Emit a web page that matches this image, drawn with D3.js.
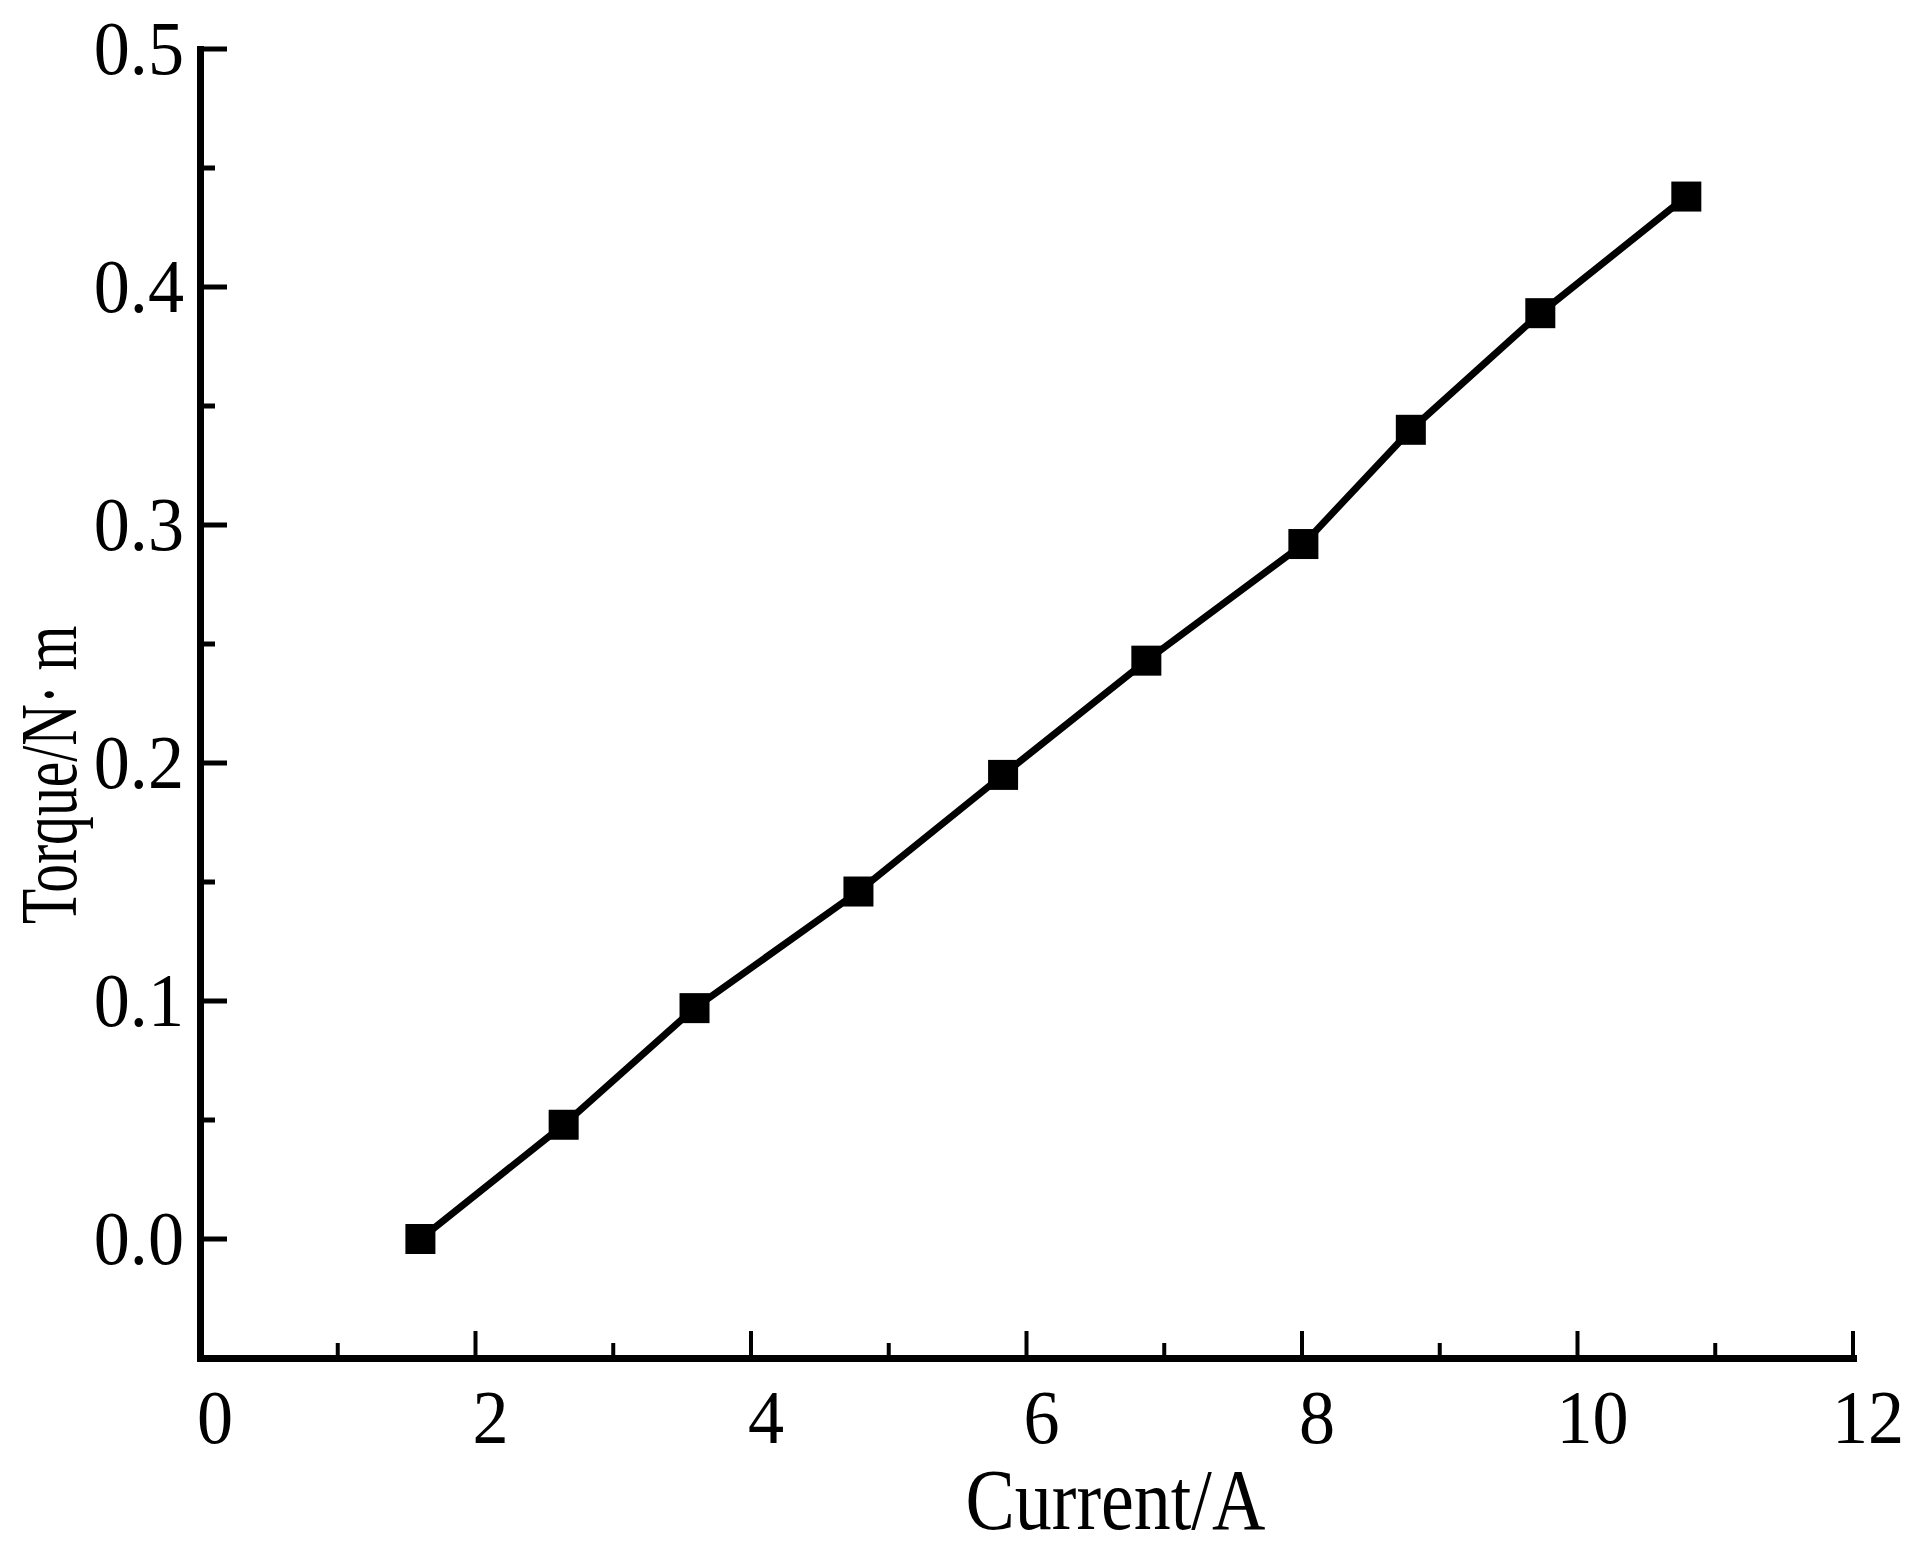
<!DOCTYPE html>
<html><head><meta charset="utf-8">
<script src="https://cdn.jsdelivr.net/npm/d3@7"></script>
<style>body{margin:0;background:#fff}</style>
</head><body>
<script>
var current = [1.6, 2.64, 3.59, 4.78, 5.83, 6.87, 8.01, 8.79, 9.73, 10.79]
var torque = [0.0, 0.048, 0.097, 0.146, 0.195, 0.243, 0.292, 0.340, 0.389, 0.438]
var xTicks = [0, 2, 4, 6, 8, 10, 12]
var yTicks = [0.0, 0.1, 0.2, 0.3, 0.4, 0.5]

var W = 1924, H = 1557,
margin = {top: 49, left: 200, right: 71, bottom: 199}

var svg = d3.select("body").append("svg").attr("width", W).attr("height", H)

var x = d3.scaleLinear().domain([0, 12]).range([margin.left, W - margin.right])
var y = d3.scaleLinear().domain([-0.05, 0.5]).range([H - margin.bottom, margin.top])

var font = "'Liberation Serif', 'Times New Roman', serif"

// x axis
var xa = svg.append("g").attr("transform", `translate(0, ${y(-0.05)})`)
xa.call(d3.axisBottom(x).tickValues(d3.range(0, 13, 1)).tickSize(0).tickFormat(""))
xa.select(".domain").attr("stroke-width", 7).attr("stroke-linecap", "square")
xa.selectAll(".minor").data(d3.range(0, 13, 1)).enter().append("line")
.attr("x1", d => x(d)).attr("x2", d => x(d)).attr("y1", 0)
.attr("y2", d => d % 2 === 0 ? -27 : -15)
.attr("stroke", "#000").attr("stroke-width", 4)

// y axis
var ya = svg.append("g").attr("transform", `translate(${x(0)}, 0)`)
ya.call(d3.axisLeft(y).tickValues([]).tickSize(0))
ya.select(".domain").attr("stroke-width", 7).attr("stroke-linecap", "square")
ya.selectAll(".minor").data(d3.range(0, 11, 1)).enter().append("line")
.attr("y1", d => y(d * 0.05)).attr("y2", d => y(d * 0.05)).attr("x1", 0)
.attr("x2", d => d % 2 === 0 ? 27 : 15)
.attr("stroke", "#000").attr("stroke-width", 5)

// tick labels (condensed serif)
svg.selectAll(".xl").data(xTicks).enter().append("text")
.attr("transform", d => `translate(${x(d) + 15}, ${y(-0.05) + 85}) scale(0.95,1)`)
.attr("text-anchor", "middle").attr("font-family", font).attr("font-size", 76)
.text(d => d)

svg.selectAll(".yl").data(yTicks).enter().append("text")
.attr("transform", d => `translate(${x(0) - 16}, ${y(d) + 25}) scale(0.95,1)`)
.attr("text-anchor", "end").attr("font-family", font).attr("font-size", 76)
.text(d => d.toFixed(1))

// axis titles
svg.append("text").attr("transform", `translate(${x(6.5) + 20}, ${H - 28}) scale(0.86,1)`)
.attr("text-anchor", "middle").attr("font-family", font).attr("font-size", 86)
.text("Current/A")

svg.append("text").attr("transform", `translate(76, ${y(0.195)}) rotate(-90) scale(0.72,1)`)
.attr("text-anchor", "middle").attr("font-family", font).attr("font-size", 80)
.text("Torque/N· m")

// line + markers
var pts = current.map((c, i) => [c, torque[i]])
svg.append("path").datum(pts)
.attr("d", d3.line().x(d => x(d[0])).y(d => y(d[1])))
.attr("fill", "none").attr("stroke", "#000").attr("stroke-width", 7)

svg.selectAll(".pt").data(pts).enter().append("rect")
.attr("x", d => x(d[0]) - 15).attr("y", d => y(d[1]) - 15)
.attr("width", 30).attr("height", 30).attr("fill", "#000")
</script>
</body></html>
